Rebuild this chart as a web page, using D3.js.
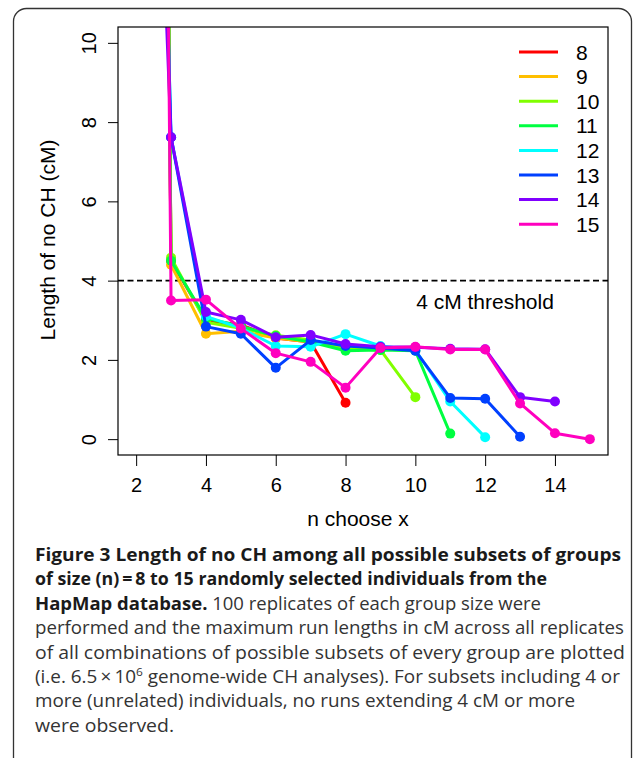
<!DOCTYPE html>
<html>
<head>
<meta charset="utf-8">
<script src="https://cdn.jsdelivr.net/npm/d3@7"></script>
<style>
  body { margin: 0; background: #fff; }
  svg { display: block; }
</style>
</head>
<body>
<div id="chart"></div>
<script>
// values; x = subset size, one array per group size n
var xValues = [2, 3, 4, 5, 6, 7, 8, 9, 10, 11, 12, 13, 14, 15];
var groupNames = ["8", "9", "10", "11", "12", "13", "14", "15"];
var groupColors = ["#FF0000", "#FFBF00", "#80FF00", "#00FF40", "#00FFFF", "#0040FF", "#8000FF", "#FF00BF"];

var n8  = [100, 4.50, 3.00, 2.88, 2.55, 2.45, 0.92];
var n9  = [100, 4.40, 2.66, 2.72, 2.55, 2.45, 2.35, 2.30];
var n10 = [100, 4.58, 2.95, 2.80, 2.62, 2.50, 2.28, 2.25, 1.06];
var n11 = [100, 4.50, 3.05, 2.85, 2.60, 2.45, 2.23, 2.25, 2.23, 0.14];
var n12 = [40, 7.62, 3.10, 2.80, 2.35, 2.33, 2.65, 2.35, 2.25, 0.95, 0.05];
var n13 = [40, 7.62, 2.84, 2.66, 1.80, 2.50, 2.35, 2.30, 2.23, 1.04, 1.02, 0.06];
var n14 = [30, 7.62, 3.21, 3.01, 2.57, 2.63, 2.40, 2.33, 2.32, 2.28, 2.27, 1.06, 0.95];
var n15 = [100, 3.50, 3.52, 2.79, 2.17, 1.95, 1.30, 2.30, 2.33, 2.26, 2.26, 0.90, 0.15, 0.00];

var xTicks = [2, 4, 6, 8, 10, 12, 14];
var yTicks = [0, 2, 4, 6, 8, 10];
var threshold = 4;

var captionBold = [
  "Figure 3 Length of no CH among all possible subsets of groups",
  "of size (n)\u2009=\u20098 to 15 randomly selected individuals from the",
  "HapMap database."
];
var captionText = [
  " 100 replicates of each group size were",
  "performed and the maximum run lengths in cM across all replicates",
  "of all combinations of possible subsets of every group are plotted",
  "(i.e. 6.5\u2009\u00d7\u200910",
  " genome-wide CH analyses). For subsets including 4 or",
  "more (unrelated) individuals, no runs extending 4 cM or more",
  "were observed."
];

var series = [n8, n9, n10, n11, n12, n13, n14, n15].map(function(vals, i) {
  return {
    name: groupNames[i],
    color: groupColors[i],
    values: vals.map(function(v, j) { return {x: xValues[j], y: v}; })
  };
});

var W = 634, H = 758;
var plot = {left: 118, right: 608, top: 27, bottom: 455};

var svg = d3.select("#chart").append("svg")
    .attr("width", W)
    .attr("height", H);

// outer frame of the figure
svg.append("rect")
    .attr("x", 13.5).attr("y", 8.5)
    .attr("width", 618).attr("height", 780)
    .attr("rx", 13).attr("ry", 13)
    .attr("fill", "none")
    .attr("stroke", "#333")
    .attr("stroke-width", 1.3);

var x = d3.scaleLinear().domain([1.48, 15.52]).range([plot.left, plot.right]);
var y = d3.scaleLinear().domain([-0.4, 10.4]).range([plot.bottom, plot.top]);

svg.append("clipPath").attr("id", "clip")
  .append("rect")
    .attr("x", plot.left).attr("y", plot.top)
    .attr("width", plot.right - plot.left)
    .attr("height", plot.bottom - plot.top);

var axisFont = "'Liberation Sans', Arial, sans-serif";

// x axis
var xAxis = d3.axisBottom(x).tickValues(xTicks).tickSize(11).tickPadding(12);
var gx = svg.append("g")
    .attr("transform", "translate(0," + plot.bottom + ")")
    .call(xAxis);
gx.select(".domain").remove();
gx.selectAll("line").attr("stroke", "#000");
gx.selectAll("text")
    .style("font-family", axisFont)
    .style("font-size", "20px")
    .attr("fill", "#000");

// y axis, labels turned like base R
var yAxis = d3.axisLeft(y).tickValues(yTicks).tickSize(10).tickPadding(0);
var gy = svg.append("g")
    .attr("transform", "translate(" + plot.left + ",0)")
    .call(yAxis);
gy.select(".domain").remove();
gy.selectAll("line").attr("stroke", "#000");
gy.selectAll("text")
    .attr("x", null)
    .attr("text-anchor", "middle")
    .attr("transform", "translate(-29,0) rotate(-90)")
    .attr("dy", "0.36em")
    .style("font-family", axisFont)
    .style("font-size", "20px")
    .attr("fill", "#000");

svg.append("text")
    .attr("transform", "translate(55,240) rotate(-90)")
    .attr("text-anchor", "middle")
    .style("font-family", axisFont)
    .style("font-size", "21px")
    .text("Length of no CH (cM)");

svg.append("text")
    .attr("x", 358).attr("y", 526)
    .attr("text-anchor", "middle")
    .style("font-family", axisFont)
    .style("font-size", "21px")
    .text("n choose x");

// threshold
svg.append("line")
    .attr("x1", plot.left).attr("x2", plot.right)
    .attr("y1", y(threshold)).attr("y2", y(threshold))
    .attr("stroke", "#000")
    .attr("stroke-width", 1.7)
    .attr("stroke-dasharray", "6,3.5");

svg.append("text")
    .attr("x", 485).attr("y", y(threshold) + 28)
    .attr("text-anchor", "middle")
    .style("font-family", axisFont)
    .style("font-size", "21px")
    .text("4 cM threshold");

// series
var line = d3.line().x(function(d) { return x(d.x); }).y(function(d) { return y(d.y); });
var marks = svg.append("g").attr("clip-path", "url(#clip)");

series.forEach(function(s) {
  var g = marks.append("g");
  g.append("path")
      .datum(s.values)
      .attr("d", line)
      .attr("fill", "none")
      .attr("stroke", s.color)
      .attr("stroke-width", 3)
      .attr("stroke-linejoin", "round");
  g.selectAll("circle")
      .data(s.values)
      .enter().append("circle")
      .attr("cx", function(d) { return x(d.x); })
      .attr("cy", function(d) { return y(d.y); })
      .attr("r", 5)
      .attr("fill", s.color);
});

// plot box
svg.append("rect")
    .attr("x", plot.left).attr("y", plot.top)
    .attr("width", plot.right - plot.left)
    .attr("height", plot.bottom - plot.top)
    .attr("fill", "none")
    .attr("stroke", "#000")
    .attr("stroke-width", 1.2);

// legend
var legend = svg.append("g");
series.forEach(function(s, i) {
  var ly = 52 + i * 24.6;
  legend.append("line")
      .attr("x1", 519).attr("x2", 558)
      .attr("y1", ly).attr("y2", ly)
      .attr("stroke", s.color)
      .attr("stroke-width", 3);
  legend.append("text")
      .attr("x", 576).attr("y", ly)
      .attr("dy", "0.36em")
      .style("font-family", axisFont)
      .style("font-size", "21px")
      .text(s.name);
});

// caption
var capFont = "'Open Sans', 'Noto Sans', sans-serif";
var capX = 35, capY0 = 561, capStep = 24.4;
var capEnds = [621, 547, 541, 624, 625, 620, 575, 174];

var cap = svg.append("g")
    .style("font-family", capFont)
    .style("font-size", "17.5px");

function capLine(i) {
  return cap.append("text")
      .attr("x", capX).attr("y", capY0 + i * capStep)
      .attr("fill", "#333")
      .attr("textLength", capEnds[i] - capX)
      .attr("lengthAdjust", "spacingAndGlyphs");
}

capLine(0).append("tspan").attr("font-weight", "bold").attr("fill", "#1a1a1a").text(captionBold[0]);
capLine(1).append("tspan").attr("font-weight", "bold").attr("fill", "#1a1a1a").text(captionBold[1]);

var l3 = capLine(2);
l3.append("tspan").attr("font-weight", "bold").attr("fill", "#1a1a1a").text(captionBold[2]);
l3.append("tspan").text(captionText[0]);

capLine(3).text(captionText[1]);
capLine(4).text(captionText[2]);

var l6 = capLine(5);
l6.append("tspan").text(captionText[3]);
l6.append("tspan").attr("dy", -7).style("font-size", "11px").text("6");
l6.append("tspan").attr("dy", 7).text(captionText[4]);

capLine(6).text(captionText[5]);
capLine(7).text(captionText[6]);
</script>
</body>
</html>
